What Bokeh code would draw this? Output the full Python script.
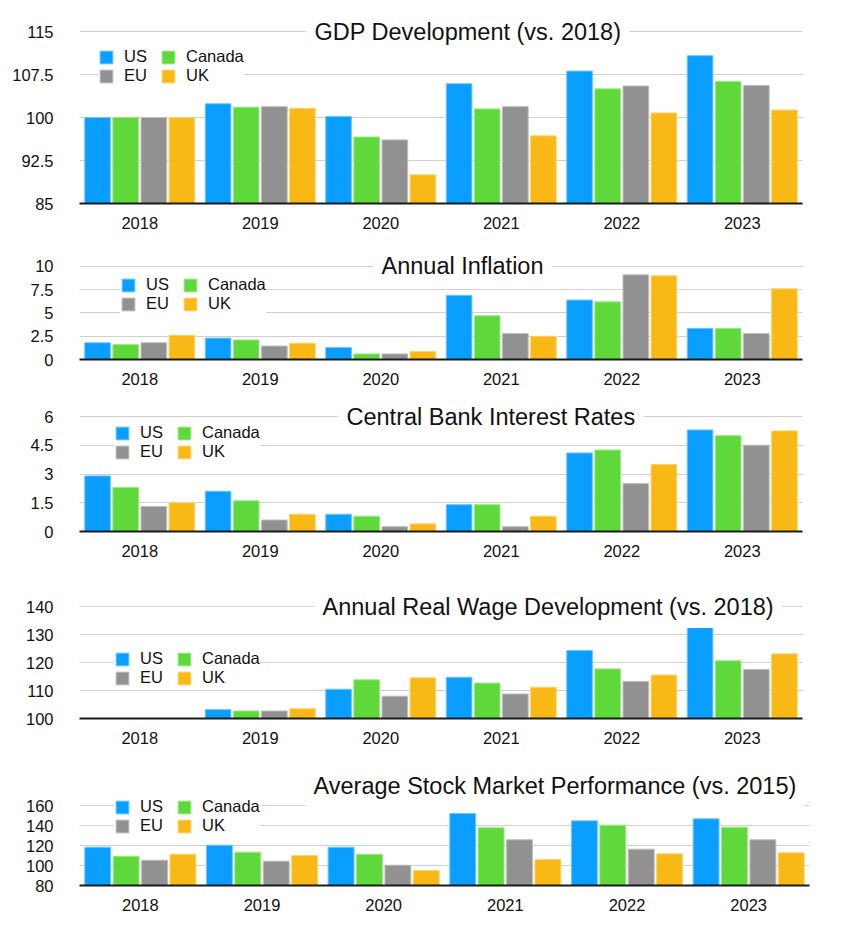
from bokeh.plotting import figure
from bokeh.models import (ColumnDataSource, FactorRange, FixedTicker, Label, Legend, LegendItem)
from bokeh.transform import dodge
from bokeh.layouts import column
from bokeh.embed import file_html
from bokeh.resources import INLINE

years = ["2018", "2019", "2020", "2021", "2022", "2023"]
countries = ["US", "Canada", "EU", "UK"]

gdp_us = [100, 102.4, 100.2, 105.9, 108.1, 110.8]
gdp_ca = [100, 101.8, 96.6, 101.5, 105.0, 106.3]
gdp_eu = [100, 101.9, 96.1, 101.9, 105.5, 105.6]
gdp_uk = [100, 101.6, 90.0, 96.8, 100.8, 101.3]

infl_us = [1.8, 2.3, 1.3, 6.9, 6.4, 3.35]
infl_ca = [1.6, 2.1, 0.6, 4.7, 6.2, 3.35]
infl_eu = [1.8, 1.45, 0.6, 2.8, 9.1, 2.8]
infl_uk = [2.6, 1.75, 0.85, 2.5, 9.0, 7.6]

rate_us = [2.9, 2.1, 0.9, 1.4, 4.1, 5.3]
rate_ca = [2.3, 1.6, 0.8, 1.4, 4.25, 5.0]
rate_eu = [1.3, 0.6, 0.25, 0.25, 2.5, 4.5]
rate_uk = [1.5, 0.9, 0.4, 0.8, 3.5, 5.25]

wage_us = [100, 103.2, 110.5, 114.8, 124.4, 133.0]
wage_ca = [100, 102.7, 113.9, 112.7, 117.8, 120.7]
wage_eu = [100, 102.7, 108.0, 108.8, 113.3, 117.6]
wage_uk = [100, 103.5, 114.6, 111.2, 115.6, 123.2]

stock_us = [118.3, 120.3, 118.3, 152.0, 144.7, 146.7]
stock_ca = [109.3, 113.3, 111.3, 137.7, 140.3, 138.3]
stock_eu = [105.3, 104.3, 100.3, 125.7, 116.3, 125.7]
stock_uk = [111.3, 110.0, 95.0, 106.0, 111.7, 112.7]

gdp_ticks = [85, 92.5, 100, 107.5, 115]
gdp_tick_labels = ["85", "92.5", "100", "107.5", "115"]
infl_ticks = [0, 2.5, 5, 7.5, 10]
infl_tick_labels = ["0", "2.5", "5", "7.5", "10"]
rate_ticks = [0, 1.5, 3, 4.5, 6]
rate_tick_labels = ["0", "1.5", "3", "4.5", "6"]
wage_ticks = [100, 110, 120, 130, 140]
wage_tick_labels = ["100", "110", "120", "130", "140"]
stock_ticks = [80, 100, 120, 140, 160]
stock_tick_labels = ["80", "100", "120", "140", "160"]

fills = ["#0A9FFF", "#5ED83A", "#919191", "#F8B916"]
edges = ["#6CC6FF", "#9BEA80", "#BDBDBD", "#FBD46E"]
offsets = [-0.35, -0.117, 0.117, 0.35]
FONT = "Liberation Sans"


def panel(title, series, ticks, tick_labels, y_start, y_end,
          frame_h, b_top, b_bottom, title_x, title_y, leg_loc,
          b_left=78, frame_w=723, b_right=30):
    src = ColumnDataSource(dict(year=years, **{c: s for c, s in zip(countries, series)}))
    p = figure(x_range=FactorRange(*years), y_range=(y_start, y_end),
               frame_width=frame_w, frame_height=frame_h,
               min_border_left=b_left, min_border_right=b_right,
               min_border_top=b_top, min_border_bottom=b_bottom,
               toolbar_location=None, output_backend="svg",
               title_location=None, background_fill_color="white",
               border_fill_color="white", outline_line_color=None)
    items = []
    for c, off, f, e in zip(countries, offsets, fills, edges):
        r = p.vbar(x=dodge("year", off, range=p.x_range), top=c, bottom=y_start,
                   width=0.213, source=src, fill_color=f, line_color=e, line_width=1)
        items.append(LegendItem(label=c, renderers=[r]))
    p.xgrid.grid_line_color = None
    p.ygrid.ticker = FixedTicker(ticks=ticks)
    p.ygrid.grid_line_color = "#d0d0d0"
    p.ygrid.grid_line_width = 1
    p.yaxis.ticker = FixedTicker(ticks=ticks)
    p.yaxis.major_label_overrides = {t: l for t, l in zip(ticks, tick_labels)}
    p.yaxis.axis_line_color = None
    p.yaxis.major_tick_line_color = None
    p.yaxis.minor_tick_line_color = None
    p.yaxis.major_label_standoff = 20
    p.yaxis.major_label_text_font = FONT
    p.yaxis.major_label_text_font_size = "16.5px"
    p.yaxis.major_label_text_color = "#111111"
    p.xaxis.axis_line_color = "#1a1a1a"
    p.xaxis.axis_line_width = 2
    p.xaxis.major_tick_line_color = None
    p.xaxis.minor_tick_line_color = None
    p.xaxis.major_label_standoff = 7
    p.xaxis.major_label_text_font = FONT
    p.xaxis.major_label_text_font_size = "16.5px"
    p.xaxis.major_label_text_color = "#111111"

    lab = Label(x=title_x, y=title_y, x_units="screen", y_units="data", text=title,
                text_font=FONT, text_font_size="23.5px", text_color="#111111",
                text_align="left", text_baseline="middle",
                background_fill_color="white", padding=8)
    p.add_layout(lab)

    leg = Legend(items=items, location=leg_loc, orientation="horizontal", ncols=2,
                 glyph_width=16, glyph_height=16, label_standoff=10,
                 label_width=36, label_height=19, spacing=0, padding=10, margin=0,
                 label_text_font=FONT, label_text_font_size="16.5px",
                 label_text_color="#111111",
                 background_fill_color="white", background_fill_alpha=1.0,
                 border_line_color=None)
    p.add_layout(leg)
    return p


p1 = panel("GDP Development (vs. 2018)", [gdp_us, gdp_ca, gdp_eu, gdp_uk],
           gdp_ticks, gdp_tick_labels, 85, 118.15, 190, 13, 30, 227, 115, (19, 118))
p2 = panel("Annual Inflation", [infl_us, infl_ca, infl_eu, infl_uk],
           infl_ticks, infl_tick_labels, 0, 11.72, 109, 17, 30, 294, 10, (41, 46))
p3 = panel("Central Bank Interest Rates", [rate_us, rate_ca, rate_eu, rate_uk],
           rate_ticks, rate_tick_labels, 0, 6.835, 131, 11, 30, 259, 6, (35, 70))
p4 = panel("Annual Real Wage Development (vs. 2018)", [wage_us, wage_ca, wage_eu, wage_uk],
           wage_ticks, wage_tick_labels, 100, 145.56, 127, 30, 33, 235, 140, (35, 31))
p5 = panel("Average Stock Market Performance (vs. 2015)", [stock_us, stock_ca, stock_eu, stock_uk],
           stock_ticks, stock_tick_labels, 80, 196, 116, 18, 36, 226, 179.5, (35, 50),
           b_left=79, frame_w=730, b_right=22)

layout = column(p1, p2, p3, p4, p5, spacing=0)
open("out.html", "w").write(file_html(layout, INLINE))
